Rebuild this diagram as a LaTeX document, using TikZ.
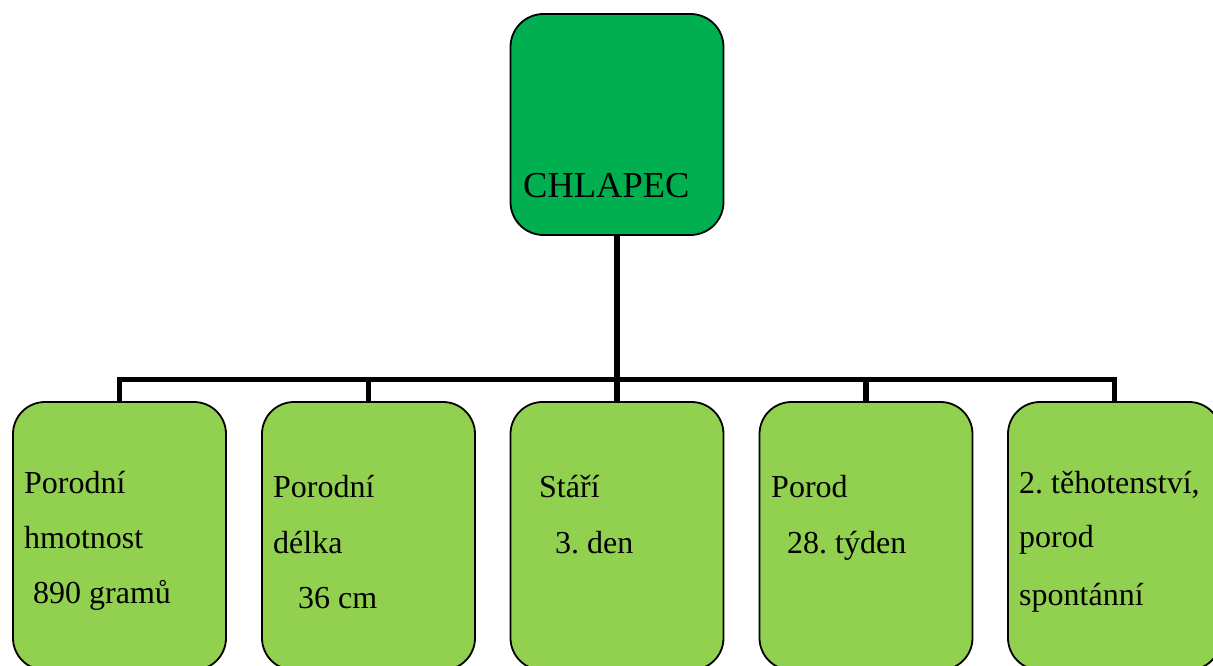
\documentclass[tikz,border=0pt]{standalone}
\usepackage{fontspec}
\setmainfont{Liberation Serif}
\frenchspacing
\definecolor{rootgreen}{HTML}{00B050}
\definecolor{leafgreen}{HTML}{92D050}
\begin{document}
\begin{tikzpicture}[x=1pt,y=-1pt,
  rootbox/.style={draw=black,line width=1.8pt,fill=rootgreen,rounded corners=33pt,
    minimum width=213pt,minimum height=221pt,inner sep=0pt},
  leafbox/.style={draw=black,line width=1.8pt,fill=leafgreen,rounded corners=32pt,
    minimum width=213pt,minimum height=268pt,inner sep=0pt},
  conn/.style={draw=black,line width=5.5pt},
  txt/.style={anchor=base west,inner sep=0pt,font=\fontsize{32}{38}\selectfont},
  bigtxt/.style={anchor=base west,inner sep=0pt,font=\fontsize{36.5}{43}\selectfont}]
\useasboundingbox (0,0) rectangle (1213,666);

% boxes
\node[rootbox] (root) at (617,124.5) {};
\node[leafbox] (b1) at (119.5,536) {};
\node[leafbox] (b2) at (368.5,536) {};
\node[leafbox] (b3) at (617,536) {};
\node[leafbox] (b4) at (866,536) {};
\node[leafbox] (b5) at (1114.5,536) {};

% tree connectors
\foreach \b in {b1,b2,b3,b4,b5}
  \draw[conn] (root.south) -- ++(0,143.5) -| (\b.north);

% labels
\node[bigtxt] (t0) at (523,197) {CHLAPEC};

\node[txt] (t1a) at (24,493) {Porodní};
\node[txt] (t1b) at (24,548) {hmotnost};
\node[txt] (t1c) at (33,603) {890 gramů};

\node[txt] (t2a) at (273,497) {Porodní};
\node[txt] (t2b) at (273,553) {délka};
\node[txt] (t2c) at (298,608) {36 cm};

\node[txt] (t3a) at (539,497) {Stáří};
\node[txt] (t3b) at (555,553) {3. den};

\node[txt] (t4a) at (771,497) {Porod};
\node[txt] (t4b) at (787,553) {28. týden};

\node[txt] (t5a) at (1019,493) {2. těhotenství,};
\node[txt] (t5b) at (1019,547) {porod};
\node[txt] (t5c) at (1019,605) {spontánní};
\end{tikzpicture}
\end{document}
